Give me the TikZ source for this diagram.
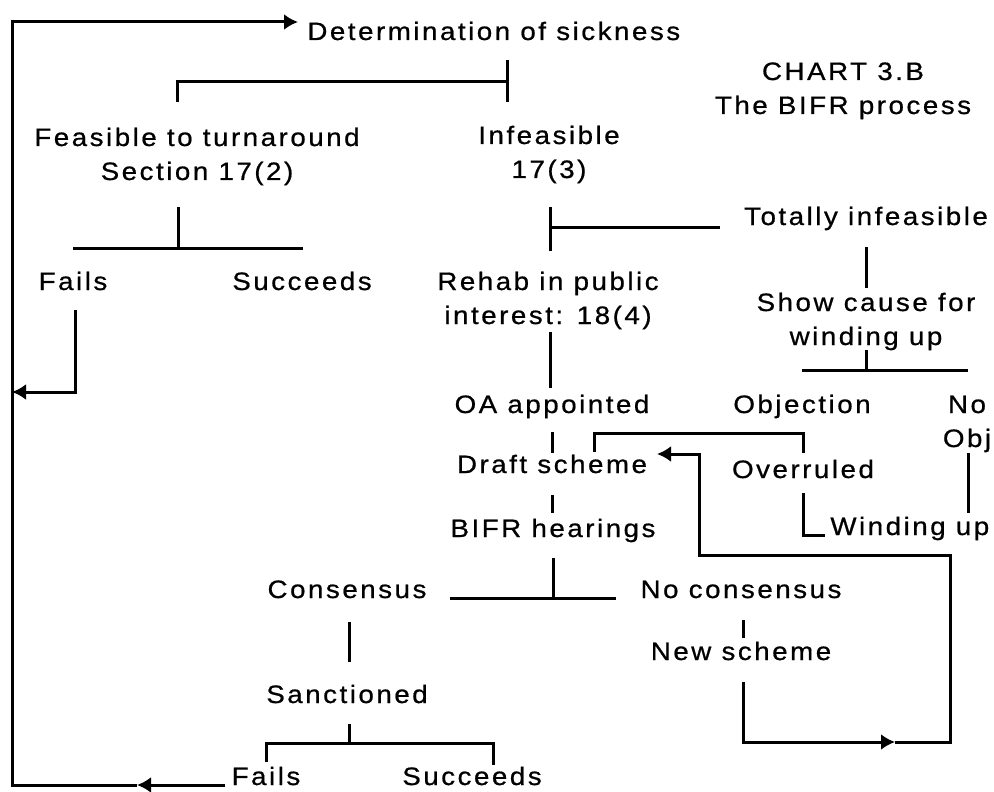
\documentclass[tikz,border=0pt]{standalone}
\usepackage{fontspec}
\setmainfont{Liberation Sans}[LetterSpace=10,FakeStretch=1.1,FakeBold=0.7]
\usetikzlibrary{arrows.meta,calc}
\newcommand{\twoline}[2]{\begin{tabular}[t]{@{}c@{}}#1\\#2\end{tabular}}
\begin{document}
\begin{tikzpicture}[x=0.5pt,y=-0.5pt,
  lbl/.style={inner sep=0pt,anchor=base,font=\fontsize{12.6pt}{17pt}\selectfont},
  ln/.style={line width=1.5pt},
  arr/.style={ln,-{Latex[length=7pt,width=8pt]}}]
\useasboundingbox (0,0) rectangle (994,791);

% ---- nodes ----
\node[lbl,anchor=base west] (det) at (307,40) {Determination of sickness};
\node[lbl] (chart) at (843,80) {\twoline{CHART 3.B}{The BIFR process}};
\node[lbl] (feas) at (197,146) {\twoline{Feasible to turnaround}{Section 17(2)}};
\node[lbl] (infeas) at (549,144) {\twoline{Infeasible}{17(3)}};
\node[lbl] (fails1) at (73,290) {Fails};
\node[lbl] (succ1) at (302,290) {Succeeds};
\node[lbl] (rehab) at (548,290) {\twoline{Rehab in public}{interest: 18(4)}};
\node[lbl] (total) at (866,225) {Totally infeasible};
\node[lbl] (show) at (866,311) {\twoline{Show cause for}{winding up}};
\node[lbl] (oa) at (552,413) {OA appointed};
\node[lbl] (obj) at (802,413) {Objection};
\node[lbl] (noobj) at (967,413) {\twoline{No}{Obj}};
\node[lbl] (draft) at (552,473) {Draft scheme};
\node[lbl] (over) at (803,478) {Overruled};
\node[lbl] (bifr) at (553,537) {BIFR hearings};
\node[lbl,anchor=base west] (wind) at (830,535) {Winding up};
\node[lbl] (cons) at (347,598) {Consensus};
\node[lbl] (nocons) at (741,598) {No consensus};
\node[lbl] (news) at (741,660) {New scheme};
\node[lbl] (sanc) at (347,703) {Sanctioned};
\node[lbl] (fails2) at (266,785) {Fails};
\node[lbl] (succ2) at (472,785) {Succeeds};

% ---- junction coordinates ----
\coordinate (retS) at (225,785);
\coordinate (retM) at (137,785);
\coordinate (retBL) at (12,785);
\coordinate (retTL) at (12,22);
\coordinate (retE) at (298,22);

\coordinate (dTop) at (507,60);
\coordinate (dBot) at (507,102);
\coordinate (dMid) at (507,82);
\coordinate (fL) at (177,82);
\coordinate (fLb) at (177,102);

\coordinate (sTop) at (178,207);
\coordinate (sMid) at (178,248);
\coordinate (sL) at (73,248);
\coordinate (sR) at (303,248);

\coordinate (f1Top) at (75,310);
\coordinate (f1Tip) at (12,392);

\coordinate (iTop) at (550,207);
\coordinate (iBot) at (550,251);
\coordinate (iMid) at (550,227);
\coordinate (iR) at (720,227);

\coordinate (tTop) at (866,247);
\coordinate (tBot) at (866,288);

\coordinate (scTop) at (866,350);
\coordinate (scMid) at (866,370);
\coordinate (scL) at (802,370);
\coordinate (scR) at (968,370);

\coordinate (rTop) at (550,332);
\coordinate (rBot) at (550,388);
\coordinate (oTop) at (552,432);
\coordinate (oBot) at (552,453);
\coordinate (dsTop) at (552,495);
\coordinate (dsBot) at (552,513);

\coordinate (ovA) at (594,452);
\coordinate (ovB) at (594,433);
\coordinate (ovC) at (803,433);
\coordinate (ovD) at (803,453);
\coordinate (wA) at (803,493);
\coordinate (wB) at (803,535);
\coordinate (wC) at (825,535);

\coordinate (noA) at (968,453);
\coordinate (noB) at (968,513);

\coordinate (bTop) at (553,558);
\coordinate (bMid) at (553,598);
\coordinate (bL) at (450,598);
\coordinate (bR) at (616,598);

\coordinate (ncA) at (743,620);
\coordinate (ncB) at (743,638);

\coordinate (lpA) at (743,682);
\coordinate (lpB) at (743,742);
\coordinate (lpM) at (895,742);
\coordinate (lpC) at (950,742);
\coordinate (lpD) at (950,555);
\coordinate (lpE) at (699,555);
\coordinate (lpF) at (699,454);
\coordinate (lpTip) at (657,454);

\coordinate (cA) at (349,622);
\coordinate (cB) at (349,662);
\coordinate (saA) at (349,724);
\coordinate (saB) at (349,743);
\coordinate (saL) at (266,743);
\coordinate (saR) at (493,743);
\coordinate (saLb) at (266,762);
\coordinate (saRb) at (493,765);

% ---- connectors ----
% return loop to Determination
\draw[arr] (retS) -- (retM);
\draw[arr] (retM) -- (retBL) -- (retTL) -- (retE);
% Determination split
\draw[ln] (dTop) -- (dBot);
\draw[ln] (fLb) -- (fL) -- (dMid);
% Feasible split
\draw[ln] (sTop) -- (sMid);
\draw[ln] (sL) -- (sR);
% Fails (feasible) back
\draw[arr] (f1Top) |- (f1Tip);
% Infeasible split
\draw[ln] (iTop) -- (iBot);
\draw[ln] (iMid) -- (iR);
% Totally infeasible
\draw[ln] (tTop) -- (tBot);
\draw[ln] (scTop) -- (scMid);
\draw[ln] (scL) -- (scR);
% Rehab chain
\draw[ln] (rTop) -- (rBot);
\draw[ln] (oTop) -- (oBot);
\draw[ln] (dsTop) -- (dsBot);
% Overruled bracket
\draw[ln] (ovA) -- (ovB) -- (ovC) -- (ovD);
\draw[ln] (wA) -- (wB) -- (wC);
\draw[ln] (noA) -- (noB);
% BIFR split
\draw[ln] (bTop) -- (bMid);
\draw[ln] (bL) -- (bR);
\draw[ln] (ncA) -- (ncB);
% new scheme loop
\draw[arr] (lpA) -- (lpB) -- (lpM);
\draw[arr] (lpM) -- (lpC) -- (lpD) -- (lpE) -- (lpF) -- (lpTip);
% consensus chain
\draw[ln] (cA) -- (cB);
\draw[ln] (saA) -- (saB);
\draw[ln] (saLb) -- (saL) -- (saR) -- (saRb);
\end{tikzpicture}
\end{document}
